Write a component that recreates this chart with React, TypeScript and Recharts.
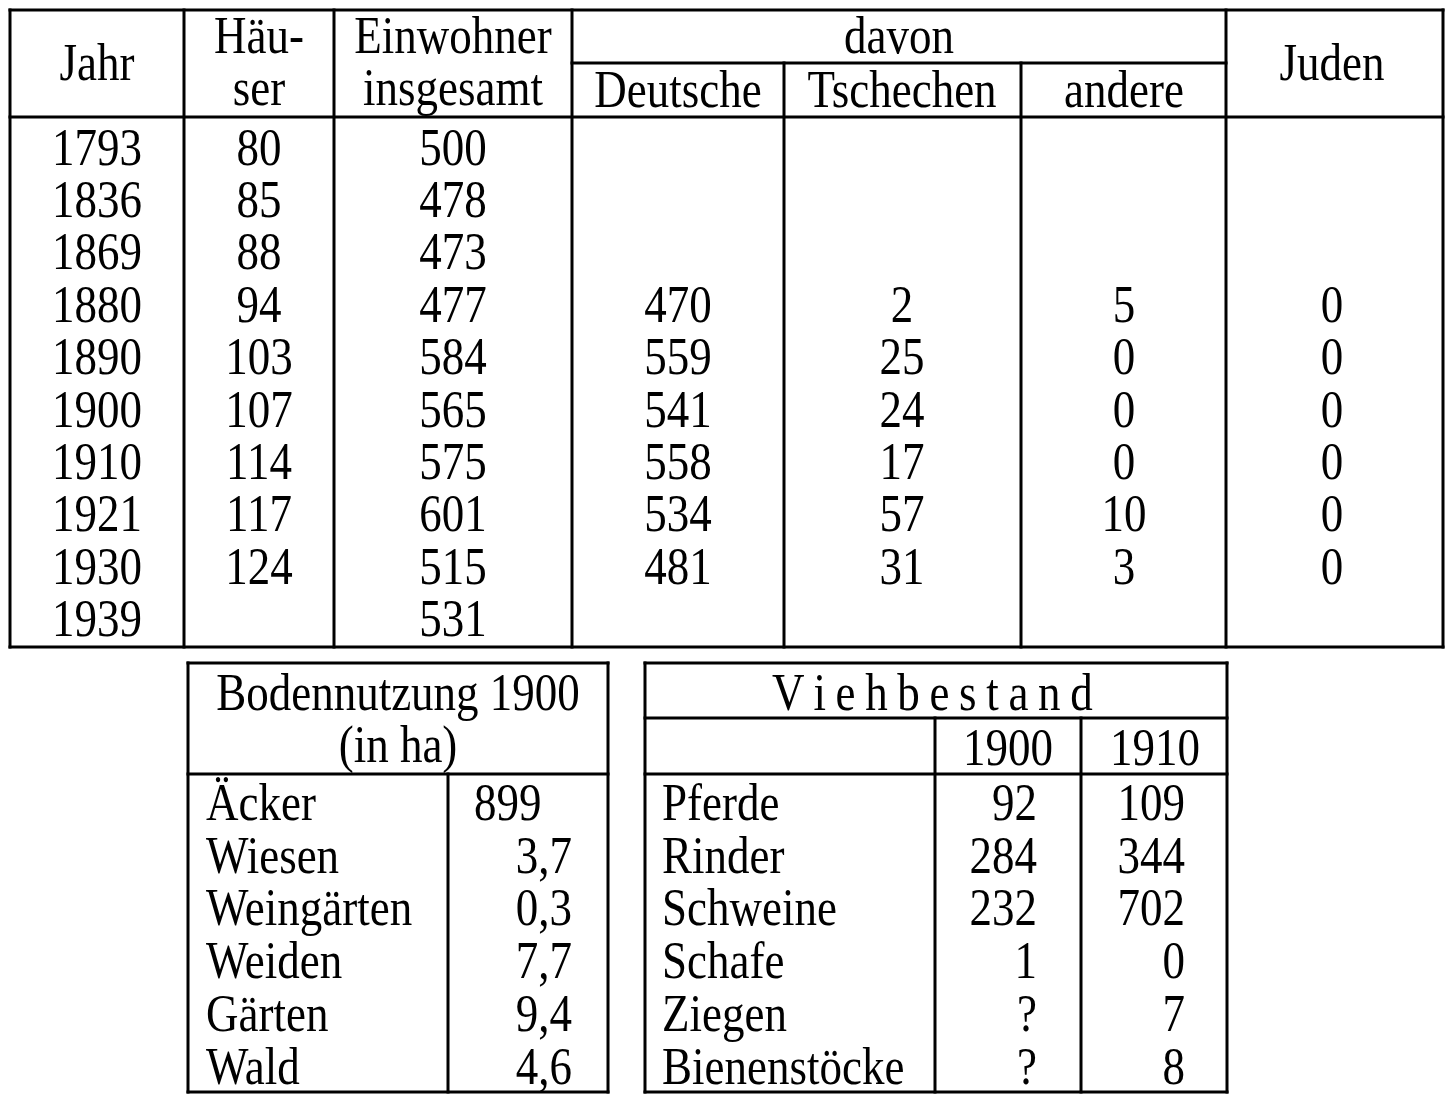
import React from "react";
import { ScatterChart, Scatter, XAxis, YAxis, ReferenceLine } from "recharts";

const years = ["1793", "1836", "1869", "1880", "1890", "1900", "1910", "1921", "1930", "1939"];
const haeuser = [80, 85, 88, 94, 103, 107, 114, 117, 124, null];
const einwohner = [500, 478, 473, 477, 584, 565, 575, 601, 515, 531];
const deutsche = [null, null, null, 470, 559, 541, 558, 534, 481, null];
const tschechen = [null, null, null, 2, 25, 24, 17, 57, 31, null];
const andere = [null, null, null, 5, 0, 0, 0, 10, 3, null];
const juden = [null, null, null, 0, 0, 0, 0, 0, 0, null];

const bodenLabels = ["Äcker", "Wiesen", "Weingärten", "Weiden", "Gärten", "Wald"];
const bodenValues = [899, 3.7, 0.3, 7.7, 9.4, 4.6];

const viehLabels = ["Pferde", "Rinder", "Schweine", "Schafe", "Ziegen", "Bienenstöcke"];
const vieh1900 = [92, 284, 232, 1, null, null];
const vieh1910 = [109, 344, 702, 0, 7, 8];

// --- layout ---
const W = 1453;
const H = 1105;
const FONT = '"Liberation Serif", "Times New Roman", serif';
const TOP_COL_X = [97, 259, 453, 678, 902, 1124, 1332];
const TOP_ROW0 = 164.5;
const TOP_STEP = 52.4;
const BOT_ROW0 = 820;
const BOT_STEP = 52.7;

type Anchor = "start" | "middle" | "end";
type Cell = { x: number; y: number; text: string; anchor: Anchor; spacing?: number };

const fmt = (v: number | null) => (v == null ? "?" : String(v).replace(".", ","));

const headerCells: Cell[] = [
  { x: 97, y: 80, text: "Jahr", anchor: "middle" },
  { x: 259, y: 53, text: "Häu-", anchor: "middle" },
  { x: 259, y: 105, text: "ser", anchor: "middle" },
  { x: 453, y: 53, text: "Einwohner", anchor: "middle" },
  { x: 453, y: 105, text: "insgesamt", anchor: "middle" },
  { x: 899, y: 53, text: "davon", anchor: "middle" },
  { x: 678, y: 107, text: "Deutsche", anchor: "middle" },
  { x: 902, y: 107, text: "Tschechen", anchor: "middle" },
  { x: 1124, y: 107, text: "andere", anchor: "middle" },
  { x: 1332, y: 80, text: "Juden", anchor: "middle" },
  { x: 398, y: 710, text: "Bodennutzung 1900", anchor: "middle" },
  { x: 398, y: 762, text: "(in ha)", anchor: "middle" },
  { x: 932, y: 710, text: "V i e h b e s t a n d", anchor: "middle", spacing: -0.8 },
  { x: 1008, y: 765, text: "1900", anchor: "middle" },
  { x: 1155, y: 765, text: "1910", anchor: "middle" },
];

const topColumns: (string | number | null)[][] = [years, haeuser, einwohner, deutsche, tschechen, andere, juden];
const topCells: Cell[] = topColumns.flatMap((col, c) =>
  col
    .map((v, i) =>
      v == null ? null : { x: TOP_COL_X[c], y: TOP_ROW0 + i * TOP_STEP, text: String(v), anchor: "middle" as Anchor }
    )
    .filter((d): d is Cell => d !== null)
);

const bodenCells: Cell[] = [
  ...bodenLabels.map((t, i) => ({ x: 206, y: BOT_ROW0 + i * BOT_STEP, text: t, anchor: "start" as Anchor })),
  ...bodenValues.map((v, i) =>
    Number.isInteger(v)
      ? { x: 474, y: BOT_ROW0 + i * BOT_STEP, text: fmt(v), anchor: "start" as Anchor }
      : { x: 572, y: BOT_ROW0 + i * BOT_STEP, text: fmt(v), anchor: "end" as Anchor }
  ),
];

const viehCells: Cell[] = [
  ...viehLabels.map((t, i) => ({ x: 662, y: BOT_ROW0 + i * BOT_STEP, text: t, anchor: "start" as Anchor })),
  ...vieh1900.map((v, i) => ({ x: 1037, y: BOT_ROW0 + i * BOT_STEP, text: fmt(v), anchor: "end" as Anchor })),
  ...vieh1910.map((v, i) => ({ x: 1185, y: BOT_ROW0 + i * BOT_STEP, text: fmt(v), anchor: "end" as Anchor })),
];

// table rules: [x1, y1, x2, y2]
const rules: number[][] = [
  // top table
  [10, 10, 1443, 10],
  [572, 63, 1226, 63],
  [10, 117, 1443, 117],
  [10, 647, 1443, 647],
  [10, 10, 10, 647],
  [184, 10, 184, 647],
  [334, 10, 334, 647],
  [572, 10, 572, 647],
  [784, 63, 784, 647],
  [1021, 63, 1021, 647],
  [1226, 10, 1226, 647],
  [1443, 10, 1443, 647],
  // Bodennutzung
  [188, 663, 608, 663],
  [188, 774, 608, 774],
  [188, 1092, 608, 1092],
  [188, 663, 188, 1092],
  [448, 774, 448, 1092],
  [608, 663, 608, 1092],
  // Viehbestand
  [645, 663, 1227, 663],
  [645, 718, 1227, 718],
  [645, 774, 1227, 774],
  [645, 1092, 1227, 1092],
  [645, 663, 645, 1092],
  [935, 718, 935, 1092],
  [1081, 718, 1081, 1092],
  [1227, 663, 1227, 1092],
];

const TextShape = (props: any) => {
  const { cx, cy, payload } = props;
  return (
    <text
      transform={`translate(${cx},${cy}) scale(1,1.15)`}
      textAnchor={payload.anchor}
      fontFamily={FONT}
      fontSize={45}
      letterSpacing={payload.spacing ?? 0}
      fill="#000"
    >
      {payload.text}
    </text>
  );
};

export default function App() {
  return (
    <div style={{ position: "absolute", left: 0, top: 0, width: W, height: H, background: "#fff" }}>
      <ScatterChart width={W} height={H} margin={{ top: 0, right: 0, bottom: 0, left: 0 }}>
        <XAxis type="number" dataKey="x" domain={[0, W]} allowDataOverflow hide />
        <YAxis type="number" dataKey="y" domain={[0, H]} allowDataOverflow reversed hide />
        {rules.map(([x1, y1, x2, y2], i) => (
          <ReferenceLine
            key={i}
            segment={[
              { x: x1, y: y1 },
              { x: x2, y: y2 },
            ]}
            stroke="#000"
            strokeWidth={3}
            strokeLinecap="square"
            ifOverflow="visible"
          />
        ))}
        <Scatter data={headerCells} shape={TextShape} isAnimationActive={false} />
        <Scatter data={topCells} shape={TextShape} isAnimationActive={false} />
        <Scatter data={bodenCells} shape={TextShape} isAnimationActive={false} />
        <Scatter data={viehCells} shape={TextShape} isAnimationActive={false} />
      </ScatterChart>
    </div>
  );
}
